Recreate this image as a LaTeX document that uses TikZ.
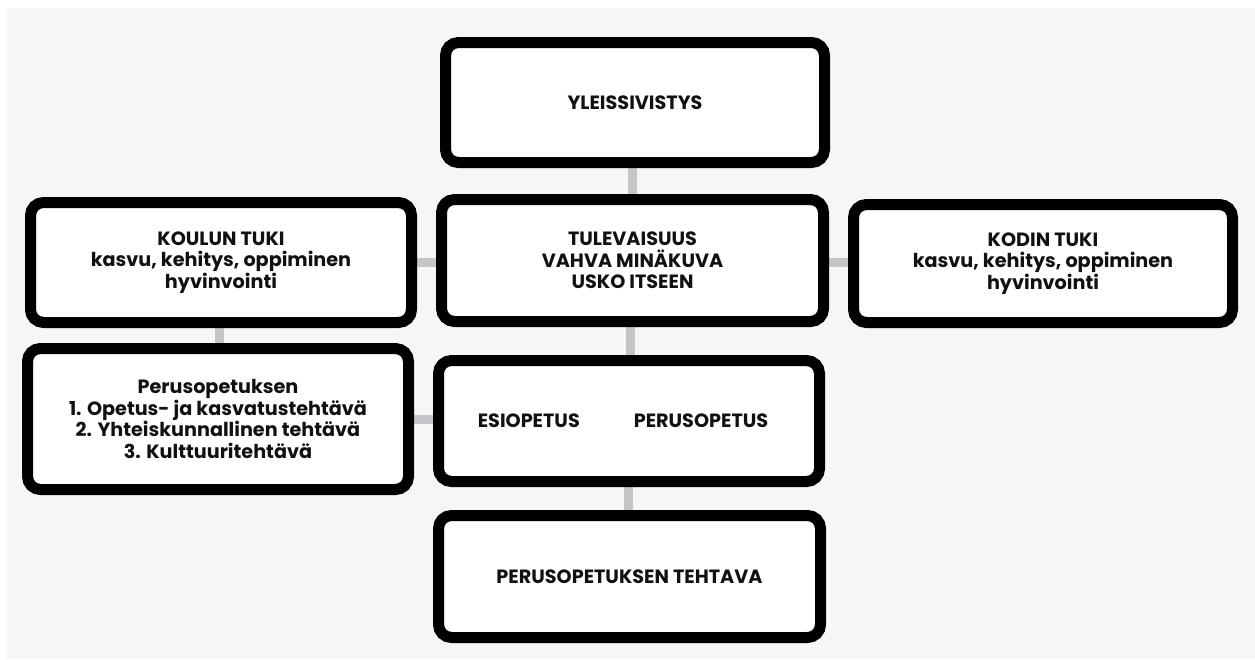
\documentclass[tikz,border=0pt]{standalone}
\usepackage{fontspec}
\setmainfont{Poppins}
\usetikzlibrary{backgrounds}
\definecolor{bggrey}{RGB}{246,246,246}
\definecolor{connc}{RGB}{196,196,201}
\definecolor{txt}{RGB}{17,17,17}
\tikzset{
  box/.style={draw=black, line width=11pt, rounded corners=13pt, fill=white,
    align=center, inner sep=0pt, text=txt,
    font=\fontsize{19.2}{21.5}\selectfont\bfseries},
  conn/.style={draw=connc, line width=9pt}
}
\begin{document}
\begin{tikzpicture}[x=1pt,y=-1pt]
\begin{scope}[on background layer]
  \fill[white] (0,0) rectangle (1255,659);
  \fill[bggrey] (7,8) rectangle (1255,659);
\end{scope}
\useasboundingbox (0,0) rectangle (1255,659);

\node[box, minimum width=379pt, minimum height=120pt] (yl) at (635,102.5) {YLEISSIVISTYS};
\node[box, minimum width=381pt, minimum height=120pt] (kt) at (221,262.5) {KOULUN TUKI\\kasvu, kehitys, oppiminen\\hyvinvointi};
\node[box, minimum width=382pt, minimum height=122pt] (tu) at (632.5,260.5) {TULEVAISUUS\\VAHVA MINÄKUVA\\USKO ITSEEN};
\node[box, minimum width=379pt, minimum height=118pt] (ko) at (1043,263.5) {KODIN TUKI\\kasvu, kehitys, oppiminen\\hyvinvointi};
\node[box, minimum width=381pt, minimum height=141pt] (pe) at (218,419) {Perusopetuksen\\1. Opetus- ja kasvatustehtävä\\2. Yhteiskunnallinen tehtävä\\3. Kulttuuritehtävä};
\node[box, minimum width=381pt, minimum height=121pt] (es) at (629,421) {ESIOPETUS\hspace{54pt}PERUSOPETUS\hspace*{12pt}};
\node[box, minimum width=382pt, minimum height=122pt] (te) at (629.5,576.5) {PERUSOPETUKSEN TEHTAVA};

\coordinate (xa) at (632,0);
\coordinate (xb) at (630,0);
\coordinate (xc) at (628,0);
\coordinate (xd) at (219,0);
\coordinate (ya) at (0,262);
\coordinate (yb) at (0,419);

\begin{scope}[on background layer]
  \draw[conn] (yl.center -| xa) -- (tu.center -| xa);
  \draw[conn] (tu.center -| xb) -- (es.center -| xb);
  \draw[conn] (es.center -| xc) -- (te.center -| xc);
  \draw[conn] (kt.center -| xd) -- (pe.center -| xd);
  \draw[conn] (kt.center |- ya) -- (tu.center |- ya);
  \draw[conn] (tu.center |- ya) -- (ko.center |- ya);
  \draw[conn] (pe.center |- yb) -- (es.center |- yb);
\end{scope}
\end{tikzpicture}
\end{document}
